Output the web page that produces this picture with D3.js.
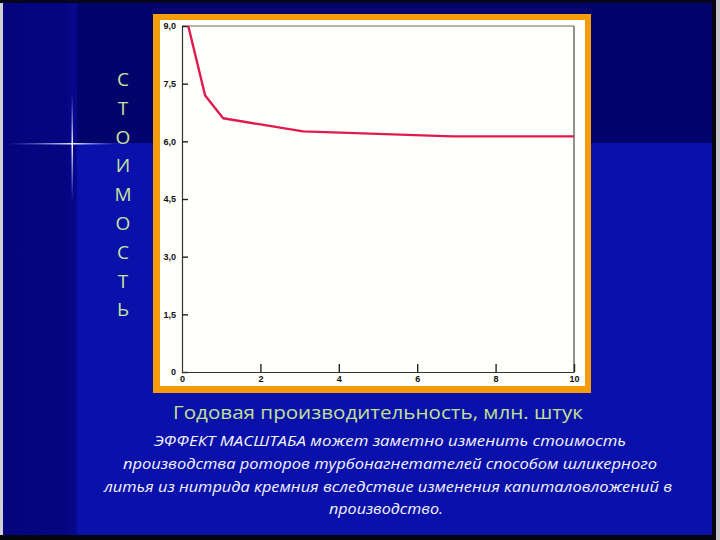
<!DOCTYPE html>
<html><head><meta charset="utf-8">
<script src="https://cdn.jsdelivr.net/npm/d3@7"></script>
<style>html,body{margin:0;padding:0;background:#000;}svg{display:block;}</style>
</head><body>
<svg id="c" width="720" height="540"></svg>
<script>
// ---- data ----
const xValues = [0.16, 0.59, 1.05, 2.0, 3.09, 6.9, 10];
const costValues = [9.0, 7.19, 6.6, 6.44, 6.26, 6.13, 6.13];
const yTickValues = [0, 1.5, 3, 4.5, 6, 7.5, 9];
const yTickLabels = ["0", "1,5", "3,0", "4,5", "6,0", "7,5", "9,0"];
const xTickValues = [0, 2, 4, 6, 8, 10];
const xTickLabels = ["0", "2", "4", "6", "8", "10"];
const yAxisTitle = "СТОИМОСТЬ";
const xAxisTitle = "Годовая производительность, млн. штук";
const captionLines = [
  "ЭФФЕКТ МАСШТАБА может заметно изменить стоимость",
  "производства роторов турбонагнетателей способом шликерного",
  "литья из нитрида кремния вследствие изменения капиталовложений в",
  "производство."
];

const svg = d3.select("#c");
const defs = svg.append("defs");

// ---- background ----
svg.append("rect").attr("width", 720).attr("height", 540).attr("fill", "#0a10aa");
svg.append("rect").attr("x", 75).attr("y", 0).attr("width", 640).attr("height", 143).attr("fill", "#03036c");
const lg = defs.append("linearGradient").attr("id", "leftStrip").attr("x1", 0).attr("x2", 1);
lg.append("stop").attr("offset", 0).attr("stop-color", "#04047c");
lg.append("stop").attr("offset", 0.85).attr("stop-color", "#050582");
lg.append("stop").attr("offset", 1).attr("stop-color", "#08088e");
svg.append("rect").attr("x", 0).attr("y", 0).attr("width", 77).attr("height", 540).attr("fill", "url(#leftStrip)");
// borders
svg.append("rect").attr("x", 0).attr("y", 0).attr("width", 3).attr("height", 540).attr("fill", "#cfcfd4");
svg.append("rect").attr("x", 712).attr("y", 0).attr("width", 4).attr("height", 540).attr("fill", "#050510");
svg.append("rect").attr("x", 716).attr("y", 0).attr("width", 4).attr("height", 540).attr("fill", "#c8c8cc");
svg.append("rect").attr("x", 0).attr("y", 0).attr("width", 716).attr("height", 3).attr("fill", "#050520");
svg.append("rect").attr("x", 0).attr("y", 535).attr("width", 716).attr("height", 5).attr("fill", "#050510");

// sparkle
const hg = defs.append("linearGradient").attr("id", "hSpark").attr("x1", 0).attr("x2", 1);
hg.append("stop").attr("offset", 0).attr("stop-color", "#8fa0ff").attr("stop-opacity", 0);
hg.append("stop").attr("offset", 0.6).attr("stop-color", "#e8ecff").attr("stop-opacity", 1);
hg.append("stop").attr("offset", 1).attr("stop-color", "#8fa0ff").attr("stop-opacity", 0);
const vg = defs.append("linearGradient").attr("id", "vSpark").attr("x1", 0).attr("x2", 0).attr("y1", 0).attr("y2", 1);
vg.append("stop").attr("offset", 0).attr("stop-color", "#8fa0ff").attr("stop-opacity", 0);
vg.append("stop").attr("offset", 0.48).attr("stop-color", "#ffffff").attr("stop-opacity", 1);
vg.append("stop").attr("offset", 1).attr("stop-color", "#8fa0ff").attr("stop-opacity", 0);
svg.append("rect").attr("x", 8).attr("y", 143).attr("width", 110).attr("height", 1.5).attr("fill", "url(#hSpark)");
svg.append("rect").attr("x", 71.5).attr("y", 92).attr("width", 1.5).attr("height", 110).attr("fill", "url(#vSpark)");

// ---- chart frame ----
svg.append("rect").attr("x", 153).attr("y", 14).attr("width", 438).attr("height", 379).attr("fill", "#f59c0a");
svg.append("rect").attr("x", 160).attr("y", 20).attr("width", 425).attr("height", 366).attr("fill", "#fffffb");

const x = d3.scaleLinear().domain([0, 10]).range([182, 574]);
const y = d3.scaleLinear().domain([0, 9]).range([372, 26]);

const g = svg.append("g");
// box top/right
g.append("line").attr("x1", x(0)).attr("x2", x(10)).attr("y1", y(9)).attr("y2", y(9)).attr("stroke", "#6a6a58").attr("stroke-width", 1);
g.append("line").attr("x1", x(10)).attr("x2", x(10)).attr("y1", y(9)).attr("y2", y(0)).attr("stroke", "#4a4a40").attr("stroke-width", 1.2);

const yAxis = d3.axisLeft(y).tickValues(yTickValues)
  .tickFormat((d, i) => yTickLabels[i]).tickSizeInner(-6).tickSizeOuter(0).tickPadding(6);
const ya = g.append("g").attr("transform", `translate(${x(0)},0)`).call(yAxis);
const xAxis = d3.axisBottom(x).tickValues(xTickValues)
  .tickFormat((d, i) => xTickLabels[i]).tickSizeInner(-8).tickSizeOuter(0).tickPadding(5);
const xa = g.append("g").attr("transform", `translate(0,${y(0)})`).call(xAxis);
[ya, xa].forEach(a => {
  a.select(".domain").attr("stroke", "#333").attr("stroke-width", 1.2);
  a.selectAll(".tick line").attr("stroke", "#222").attr("stroke-width", 1.4);
  a.selectAll(".tick text").attr("fill", "#111").attr("font-family", "Liberation Sans, Arial, sans-serif")
    .attr("font-size", 9).attr("font-weight", "bold");
});
xa.selectAll(".tick").filter(d => d === 0).select("line").remove();
xa.selectAll(".tick text").attr("dy", "0.55em");

// data line
const line = d3.line().x((d, i) => x(xValues[i])).y(d => y(d));
g.append("path").datum(costValues).attr("d", line).attr("fill", "none")
  .attr("stroke", "#e0194e").attr("stroke-width", 2.4).attr("stroke-linejoin", "round");

// ---- y title (vertical letters) ----
const letters = Array.from(yAxisTitle);
svg.append("g").selectAll("text").data(letters).join("text")
  .attr("x", 123).attr("y", (d, i) => 86 + i * 28.8)
  .attr("text-anchor", "middle").attr("font-family", "Open Sans, DejaVu Sans, sans-serif")
  .attr("font-size", 19).attr("fill", "#c6e29e").text(d => d);

// ---- x title ----
svg.append("text").attr("x", 378).attr("y", 419).attr("text-anchor", "middle")
  .attr("font-family", "Open Sans, DejaVu Sans, sans-serif").attr("font-size", 19)
  .attr("fill", "#c2e092").attr("textLength", 410).attr("lengthAdjust", "spacingAndGlyphs")
  .text(xAxisTitle);

// ---- caption ----
const capPos = [
  {cx: 390, y: 446, w: 472},
  {cx: 390, y: 469, w: 534},
  {cx: 388, y: 492, w: 568},
  {cx: 386, y: 514, w: 114}
];
svg.append("g").selectAll("text").data(captionLines).join("text")
  .attr("x", (d, i) => capPos[i].cx).attr("y", (d, i) => capPos[i].y)
  .attr("text-anchor", "middle").attr("font-family", "Open Sans, DejaVu Sans, sans-serif")
  .attr("font-style", "italic").attr("font-size", 14.5).attr("fill", "#f4f4ff")
  .attr("textLength", (d, i) => capPos[i].w).attr("lengthAdjust", "spacingAndGlyphs")
  .text(d => d);
</script>
</body></html>
